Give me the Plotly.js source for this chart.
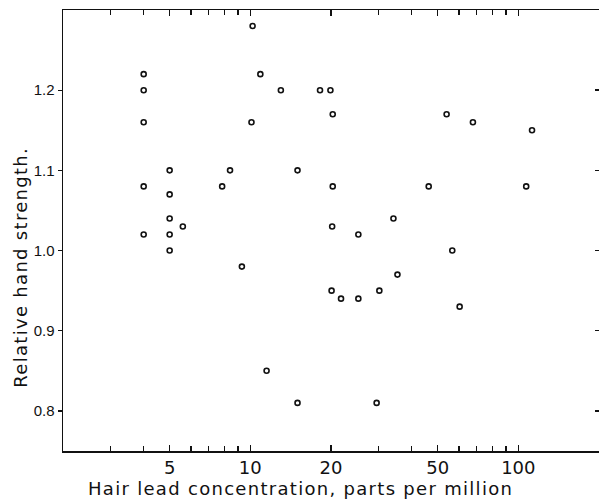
<!DOCTYPE html>
<html><head><meta charset="utf-8">
<script src="https://cdn.plot.ly/plotly-3.0.1.min.js"></script>
<style>
html,body{margin:0;padding:0;background:#fff}
.annotation-text{letter-spacing:1.3px}
</style>
</head><body>
<div id="chart" style="width:600px;height:502px"></div>
<script>
const leadPpm = [4, 4, 4, 4, 4, 5, 5, 5, 5, 5, 5.6, 7.85, 8.4, 9.3, 10.2, 10.1, 10.9, 11.5, 13, 15, 15, 18.2, 19.9, 20.3, 20.3, 20.2, 20.1, 21.8, 25.3, 25.3, 29.6, 30.3, 34.2, 35.4, 46.3, 54, 56.7, 60.4, 67.7, 107, 112.5];
const handStrength = [1.22, 1.20, 1.16, 1.08, 1.02, 1.10, 1.07, 1.04, 1.02, 1.00, 1.03, 1.08, 1.10, 0.98, 1.28, 1.16, 1.22, 0.85, 1.20, 1.10, 0.81, 1.20, 1.20, 1.17, 1.08, 1.03, 0.95, 0.94, 1.02, 0.94, 0.81, 0.95, 1.04, 0.97, 1.08, 1.17, 1.00, 0.93, 1.16, 1.08, 1.15];
const xTickVals = [5, 10, 20, 50, 100];
const xTickText = ['5', '10', '20', '50', '100'];
const xMinorTickVals = [3, 4, 6, 7, 8, 9, 30, 40, 60, 70, 80, 90];
const yTickVals = [0.8, 0.9, 1.0, 1.1, 1.2];
const yTickText = ['0.8', '0.9', '1.0', '1.1', '1.2'];
const xTitle = 'Hair lead concentration, parts per million';
const yTitle = 'Relative hand strength.';

const yTickFont = {family: 'Liberation Sans, Arial, sans-serif', size: 15, color: '#111'};
const xTickFont = {family: 'DejaVu Sans, sans-serif', size: 18, color: '#111'};
const titleFont = {family: 'DejaVu Sans, sans-serif', size: 18, color: '#111'};

const traces = [
  {
    x: leadPpm, y: handStrength, type: 'scatter', mode: 'markers',
    marker: {symbol: 'circle-open', size: 5, color: '#111', line: {width: 1.6, color: '#111'}},
    showlegend: false, hoverinfo: 'x+y'
  },
  {x: [], y: [], type: 'scatter', mode: 'markers', yaxis: 'y2', showlegend: false, hoverinfo: 'skip'}
];

const layout = {
  width: 600, height: 502,
  margin: {l: 63, r: 1, t: 10, b: 51},
  paper_bgcolor: '#fff', plot_bgcolor: '#fff',
  showlegend: false,
  xaxis: {
    type: 'log', range: [Math.log10(2), Math.log10(200)],
    tickmode: 'array', tickvals: xTickVals, ticktext: xTickText,
    ticks: 'inside', ticklen: 6, tickwidth: 1.3, tickcolor: '#111',
    minor: {tickmode: 'array', tickvals: xMinorTickVals, ticks: 'inside', ticklen: 5, tickwidth: 1.3, tickcolor: '#111', showgrid: false},
    showline: true, linecolor: '#111', linewidth: 1.5, mirror: 'ticks',
    showgrid: false, zeroline: false, tickfont: xTickFont
  },
  yaxis: {
    range: [0.75, 1.3],
    tickmode: 'array', tickvals: yTickVals, ticktext: yTickText,
    ticks: 'outside', ticklen: 4, tickwidth: 1.3, tickcolor: '#111',
    showline: true, linecolor: '#111', linewidth: 1.5,
    showgrid: false, zeroline: false, tickfont: yTickFont
  },
  yaxis2: {
    overlaying: 'y', side: 'right', anchor: 'x', range: [0.75, 1.3],
    tickmode: 'array', tickvals: yTickVals, showticklabels: false,
    ticks: 'inside', ticklen: 4, tickwidth: 1.5, tickcolor: '#111',
    showline: false, showgrid: false, zeroline: false
  },
  annotations: [
    {text: xTitle, xref: 'paper', yref: 'paper', x: 0.444, y: -0.086,
     xanchor: 'center', yanchor: 'middle', showarrow: false, font: titleFont},
    {text: yTitle, xref: 'paper', yref: 'paper', x: -0.080, y: 0.416, textangle: -90,
     xanchor: 'center', yanchor: 'middle', showarrow: false, font: titleFont}
  ]
};

Plotly.newPlot('chart', traces, layout, {staticPlot: true, displayModeBar: false});
</script>
</body></html>
